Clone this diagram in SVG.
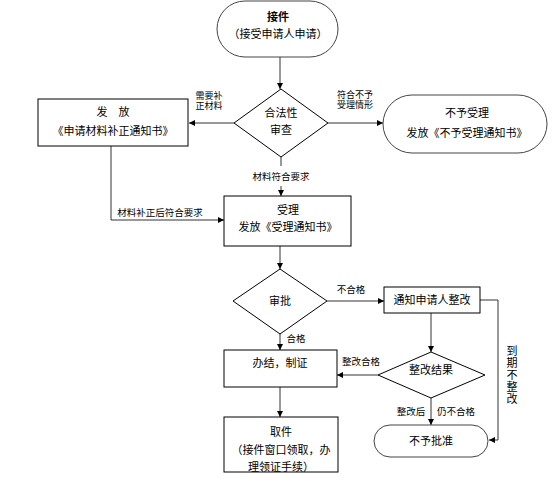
<svg xmlns="http://www.w3.org/2000/svg" width="555" height="498" viewBox="0 0 555 498">
<style>
text{font-family:"Liberation Sans","Noto Sans CJK SC",sans-serif;fill:#000;text-anchor:middle}
.t{font-size:11px}
.s{font-size:9.5px}
.m{font-size:9px}
.b{fill:#fff;stroke:#000;stroke-width:1}
.r{fill:#fff;stroke:#444;stroke-width:1}
.c{fill:none;stroke:#333;stroke-width:1}
</style>
<defs>
<marker id="a" markerWidth="6" markerHeight="6" refX="6" refY="3" orient="auto" markerUnits="userSpaceOnUse">
<path d="M0,0 L6,3 L0,6 Z" fill="#000"/>
</marker>
</defs>
<rect width="555" height="498" fill="#fff"/>
<g id="connectors">
<line class="c" x1="280" y1="57" x2="280" y2="89" marker-end="url(#a)"/>
<line class="c" x1="234" y1="123" x2="189" y2="123" marker-end="url(#a)"/>
<line class="c" x1="328" y1="123" x2="383" y2="123" marker-end="url(#a)"/>
<line class="c" x1="281" y1="157" x2="281" y2="166"/>
<line class="c" x1="281" y1="186" x2="281" y2="196" marker-end="url(#a)"/>
<polyline class="c" points="111,146 111,220 224,220" marker-end="url(#a)"/>
<line class="c" x1="280" y1="246" x2="280" y2="269" marker-end="url(#a)"/>
<line class="c" x1="327" y1="301" x2="384" y2="301" marker-end="url(#a)"/>
<polyline class="c" points="480,300 498,300 498,440 489,440" marker-end="url(#a)"/>
<line class="c" x1="280" y1="334" x2="280" y2="350" marker-end="url(#a)"/>
<line class="c" x1="431" y1="313" x2="431" y2="352" marker-end="url(#a)"/>
<line class="c" x1="378" y1="375" x2="337" y2="375" marker-end="url(#a)"/>
<line class="c" x1="431" y1="398" x2="431" y2="425" marker-end="url(#a)"/>
<line class="c" x1="280" y1="387" x2="280" y2="417" marker-end="url(#a)"/>
<text class="m" x="209" y="99">需要补</text>
<text class="m" x="209" y="109">正材料</text>
<text class="m" x="355" y="98">符合不予</text>
<text class="m" x="355" y="108">受理情形</text>
<text class="s" x="281" y="180">材料符合要求</text>
<text class="s" x="160" y="216">材料补正后符合要求</text>
<text class="s" x="351" y="293">不合格</text>
<text class="s" x="296" y="342">合格</text>
<text class="s" x="361" y="365">整改合格</text>
<text class="s" x="411" y="415">整改后</text>
<text class="s" x="456" y="415">仍不合格</text>
<text class="t" x="512" y="355">到</text>
<text class="t" x="512" y="367">期</text>
<text class="t" x="512" y="379">不</text>
<text class="t" x="512" y="391">整</text>
<text class="t" x="512" y="403">改</text>
</g>
<g id="start">
<rect class="r" x="217" y="1" width="121" height="56" rx="28"/>
<text class="t" x="278" y="21" font-weight="bold">接件</text>
<text class="t" x="278" y="38">（接受申请人申请）</text>
</g>
<g id="check">
<polygon class="b" points="281,89 328,123 281,157 234,123"/>
<text class="t" x="281" y="117">合法性</text>
<text class="t" x="281" y="134">审查</text>
</g>
<g id="correct">
<rect class="b" x="38" y="99" width="150" height="47"/>
<text class="t" x="113" y="116">发　放</text>
<text class="t" x="113" y="135">《申请材料补正通知书》</text>
</g>
<g id="reject">
<rect class="r" x="383" y="95" width="164" height="58" rx="29"/>
<text class="t" x="467" y="117">不予受理</text>
<text class="t" x="467" y="137">发放《不予受理通知书》</text>
</g>
<g id="accept">
<rect class="b" x="224" y="196" width="127" height="50"/>
<text class="t" x="288" y="214">受理</text>
<text class="t" x="288" y="231">发放《受理通知书》</text>
</g>
<g id="approve">
<polygon class="b" points="280,269 327,301 280,334 233,301"/>
<text class="t" x="280" y="305">审批</text>
</g>
<g id="notify">
<rect class="b" x="384" y="287" width="96" height="26"/>
<text class="t" x="432" y="304">通知申请人整改</text>
</g>
<g id="finish">
<rect class="b" x="224" y="350" width="113" height="37"/>
<text class="t" x="280" y="367">办结，制证</text>
</g>
<g id="result">
<polygon class="b" points="431,352 485,375 431,398 378,375"/>
<text class="t" x="431" y="374">整改结果</text>
</g>
<g id="deny">
<rect class="r" x="374" y="425" width="114" height="32" rx="16"/>
<text class="t" x="431" y="445">不予批准</text>
</g>
<g id="pickup">
<rect class="b" x="224" y="417" width="114" height="55"/>
<text class="t" x="281" y="436">取件</text>
<text class="t" x="281" y="454">（接件窗口领取，办</text>
<text class="t" x="281" y="471">理领证手续）</text>
</g>
</svg>
